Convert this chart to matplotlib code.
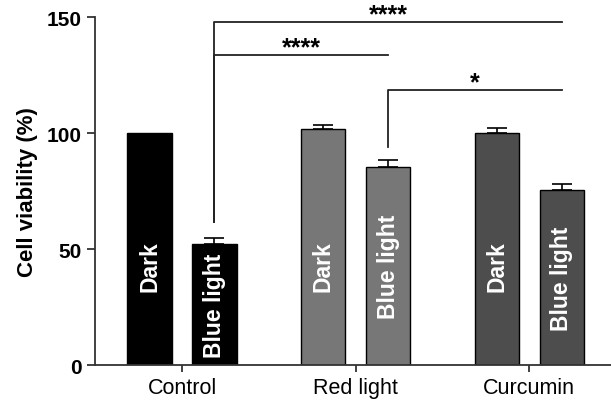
import numpy as np
import matplotlib.pyplot as plt

plt.rcParams['font.family'] = ['Liberation Sans', 'DejaVu Sans']

groups = ['Control', 'Red light', 'Curcumin']
dark_vals = [100, 101.7, 100]
dark_err = [0, 1.8, 2.0]
blue_vals = [52.2, 85.5, 75.6]
blue_err = [2.5, 2.9, 2.5]
colors = ['#000000', '#777777', '#4d4d4d']

# significance brackets: (group of blue bar 1, group of blue bar 2, bottom of left leg, bracket height, stars)
sig = [(0, 2, 61.5, 148, '****'),
       (0, 1, 61.5, 133.5, '****'),
       (1, 2, 94, 118.5, '*')]

fig = plt.figure(figsize=(6.11, 4.06), dpi=100)
ax = fig.add_axes([0.1555, 0.0985, 0.8445, 0.857])

x = np.arange(len(groups))
w = 0.254
off = 0.187

for i in range(len(groups)):
    ax.bar(x[i] - off, dark_vals[i], w, color=colors[i], edgecolor='black', linewidth=1, zorder=2)
    ax.bar(x[i] + off, blue_vals[i], w, color=colors[i], edgecolor='black', linewidth=1, zorder=2)
    if dark_err[i] > 0:
        ax.errorbar(x[i] - off, dark_vals[i], yerr=[[0], [dark_err[i]]], fmt='none',
                    ecolor='black', elinewidth=1.2, capsize=7.5, capthick=1.2, zorder=1)
    ax.errorbar(x[i] + off, blue_vals[i], yerr=[[0], [blue_err[i]]], fmt='none',
                ecolor='black', elinewidth=1.2, capsize=7.5, capthick=1.2, zorder=1)
    ax.text(x[i] - off, 43, 'Dark', rotation=90, color='white', fontsize=16.5,
            fontweight='bold', ha='center', va='center', zorder=3)
    ax.text(x[i] + off, blue_vals[i] / 2, 'Blue light', rotation=90, color='white', fontsize=16.5,
            fontweight='bold', ha='center', va='center', zorder=3)

for a, b, low, h, stars in sig:
    xa = x[a] + off
    xb = x[b] + off
    ax.plot([xa, xa, xb], [low, h, h], color='#222222', lw=1.3, clip_on=False)
    ax.text((xa + xb) / 2, h + 0.3, stars, ha='center', va='baseline', fontsize=18,
            fontweight='bold', clip_on=False)

ax.set_xlim(-0.501, 2.47)
ax.set_ylim(0, 150)
ax.set_yticks([0, 50, 100, 150])
ax.set_xticks(x)
ax.set_xticklabels(groups, fontsize=15.5)
for lab in ax.get_yticklabels():
    lab.set_fontweight('bold')
    lab.set_fontsize(15)
ax.set_ylabel('Cell viability (%)', fontsize=16, fontweight='bold', labelpad=6)

ax.spines['top'].set_visible(False)
ax.spines['right'].set_visible(False)
ax.spines['left'].set_linewidth(1.3)
ax.spines['bottom'].set_linewidth(1.3)
ax.spines['left'].set_color('#333333')
ax.spines['bottom'].set_color('#333333')
ax.tick_params(axis='y', length=6, width=1.3, color='#333333')
ax.tick_params(axis='x', length=5, width=1.3, color='#333333')

plt.savefig('out.png', dpi=100)
